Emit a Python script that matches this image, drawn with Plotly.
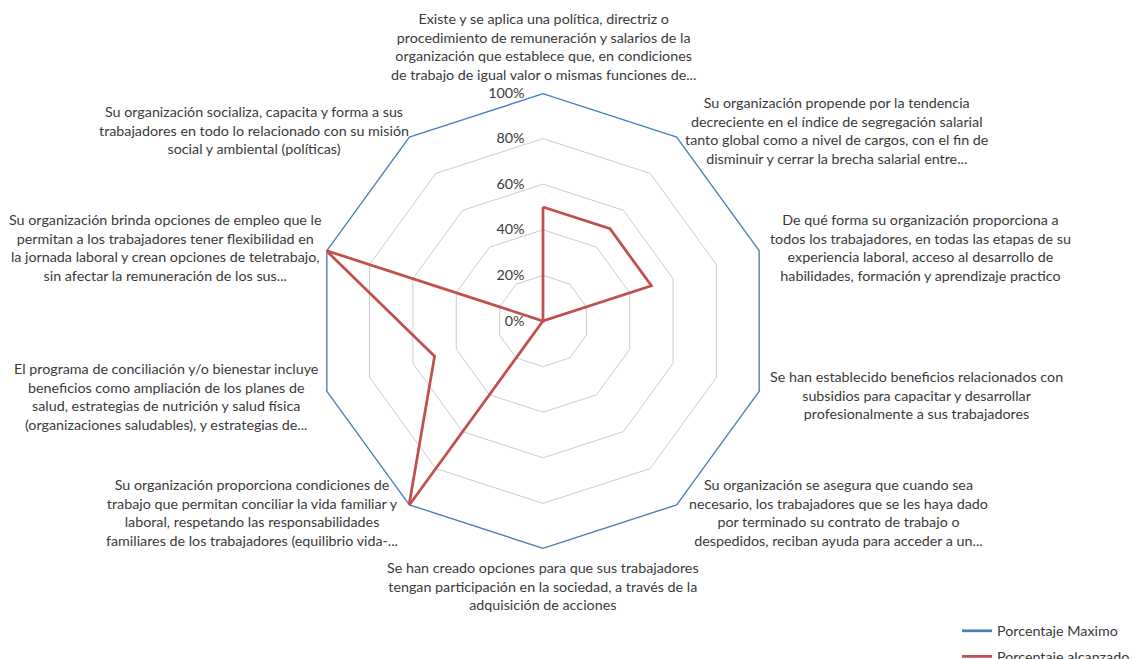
import plotly.graph_objects as go

categories = [
    "Existe y se aplica una política, directriz o<br>procedimiento de remuneración y salarios de la<br>organización que establece que, en condiciones<br>de trabajo de igual valor o mismas funciones de...",
    "Su organización propende por la tendencia<br>decreciente en el índice de segregación salarial<br>tanto global como a nivel de cargos, con el fin de<br>disminuir y cerrar la brecha salarial entre...",
    "De qué forma su organización proporciona a<br>todos los trabajadores, en todas las etapas de su<br>experiencia laboral, acceso al desarrollo de<br>habilidades, formación y aprendizaje practico",
    "Se han establecido beneficios relacionados con<br>subsidios para capacitar y desarrollar<br>profesionalmente a sus trabajadores",
    "Su organización se asegura que cuando sea<br>necesario, los trabajadores que se les haya dado<br>por terminado su contrato de trabajo o<br>despedidos, reciban ayuda para acceder a un...",
    "Se han creado opciones para que sus trabajadores<br>tengan participación en la sociedad, a través de la<br>adquisición de acciones",
    "Su organización proporciona condiciones de<br>trabajo que permitan conciliar la vida familiar y<br>laboral, respetando las responsabilidades<br>familiares de los trabajadores (equilibrio vida-...",
    "El programa de conciliación y/o bienestar incluye<br>beneficios como ampliación de los planes de<br>salud, estrategias de nutrición y salud física<br>(organizaciones saludables), y estrategias de...",
    "Su organización brinda opciones de empleo que le<br>permitan a los trabajadores tener flexibilidad en<br>la jornada laboral y crean opciones de teletrabajo,<br>sin afectar la remuneración de los sus...",
    "Su organización socializa, capacita y forma a sus<br>trabajadores en todo lo relacionado con su misión<br>social y ambiental (políticas)",
]
keys = [f"c{i}" for i in range(len(categories))]
porcentaje_maximo = [1, 1, 1, 1, 1, 1, 1, 1, 1, 1]
porcentaje_alcanzado = [0.5, 0.5, 0.5, 0, 0, 0, 1, 0.5, 1, 0]
radial_ticks = [0, 0.2, 0.4, 0.6, 0.8, 1.0]

W, H = 1135, 659
cx, cy, R = 543, 321, 228

# label centres in pixels (layout only)
label_pos = [(543, 46), (836, 130), (920, 247), (916, 395), (838, 512),
             (543, 586), (252, 512), (166, 396), (165, 247), (254, 130)]

BLUE = "#4A7EBB"
RED = "#C0504D"
TXT = "#3A3A3A"
FONT = "Lato"
FS = 14.3

fig = go.Figure()
fig.add_trace(go.Scatterpolar(
    r=porcentaje_maximo + porcentaje_maximo[:1], theta=keys + keys[:1],
    mode="lines", line=dict(color=BLUE, width=2.75),
    name="Porcentaje Maximo", legendgroup="a"))
fig.add_trace(go.Scatterpolar(
    r=porcentaje_alcanzado + porcentaje_alcanzado[:1], theta=keys + keys[:1],
    mode="lines", line=dict(color=RED, width=2.75),
    name="Porcentaje alcanzado", legendgroup="b"))

annotations = []
for txt, (px, py) in zip(categories, label_pos):
    annotations.append(dict(
        text=txt, x=px / W, y=1 - py / H, xref="paper", yref="paper",
        xanchor="center", yanchor="middle", align="center", showarrow=False,
        font=dict(family=FONT, size=FS, color=TXT)))

fig.update_layout(
    width=W, height=H,
    margin=dict(l=0, r=0, t=0, b=0, autoexpand=False),
    paper_bgcolor="white", plot_bgcolor="white",
    font=dict(family=FONT, size=FS, color=TXT),
    polar=dict(
        domain=dict(x=[(cx - R) / W, (cx + R) / W], y=[1 - (cy + R) / H, 1 - (cy - R) / H]),
        bgcolor="white",
        gridshape="linear",
        angularaxis=dict(direction="clockwise", rotation=90, showticklabels=False,
                         showgrid=False, showline=False, ticks="",
                         categoryorder="array", categoryarray=keys),
        radialaxis=dict(range=[0, 1], tickvals=radial_ticks, tickformat=".0%",
                        angle=90, tickangle=90, side="counterclockwise",
                        showline=False, ticks="outside", ticklen=13,
                        tickcolor="rgba(0,0,0,0)",
                        gridcolor="#CCCCCC", gridwidth=1,
                        tickfont=dict(family=FONT, size=FS, color=TXT)),
    ),
    legend=dict(x=957 / W, y=1 - 615 / H, xanchor="left", yanchor="top",
                tracegroupgap=4, font=dict(family=FONT, size=FS, color=TXT),
                bgcolor="rgba(0,0,0,0)"),
    annotations=annotations,
    showlegend=True,
)

fig.write_html("out.html", config={"displayModeBar": False},
               post_script="document.body.style.margin='0';")
